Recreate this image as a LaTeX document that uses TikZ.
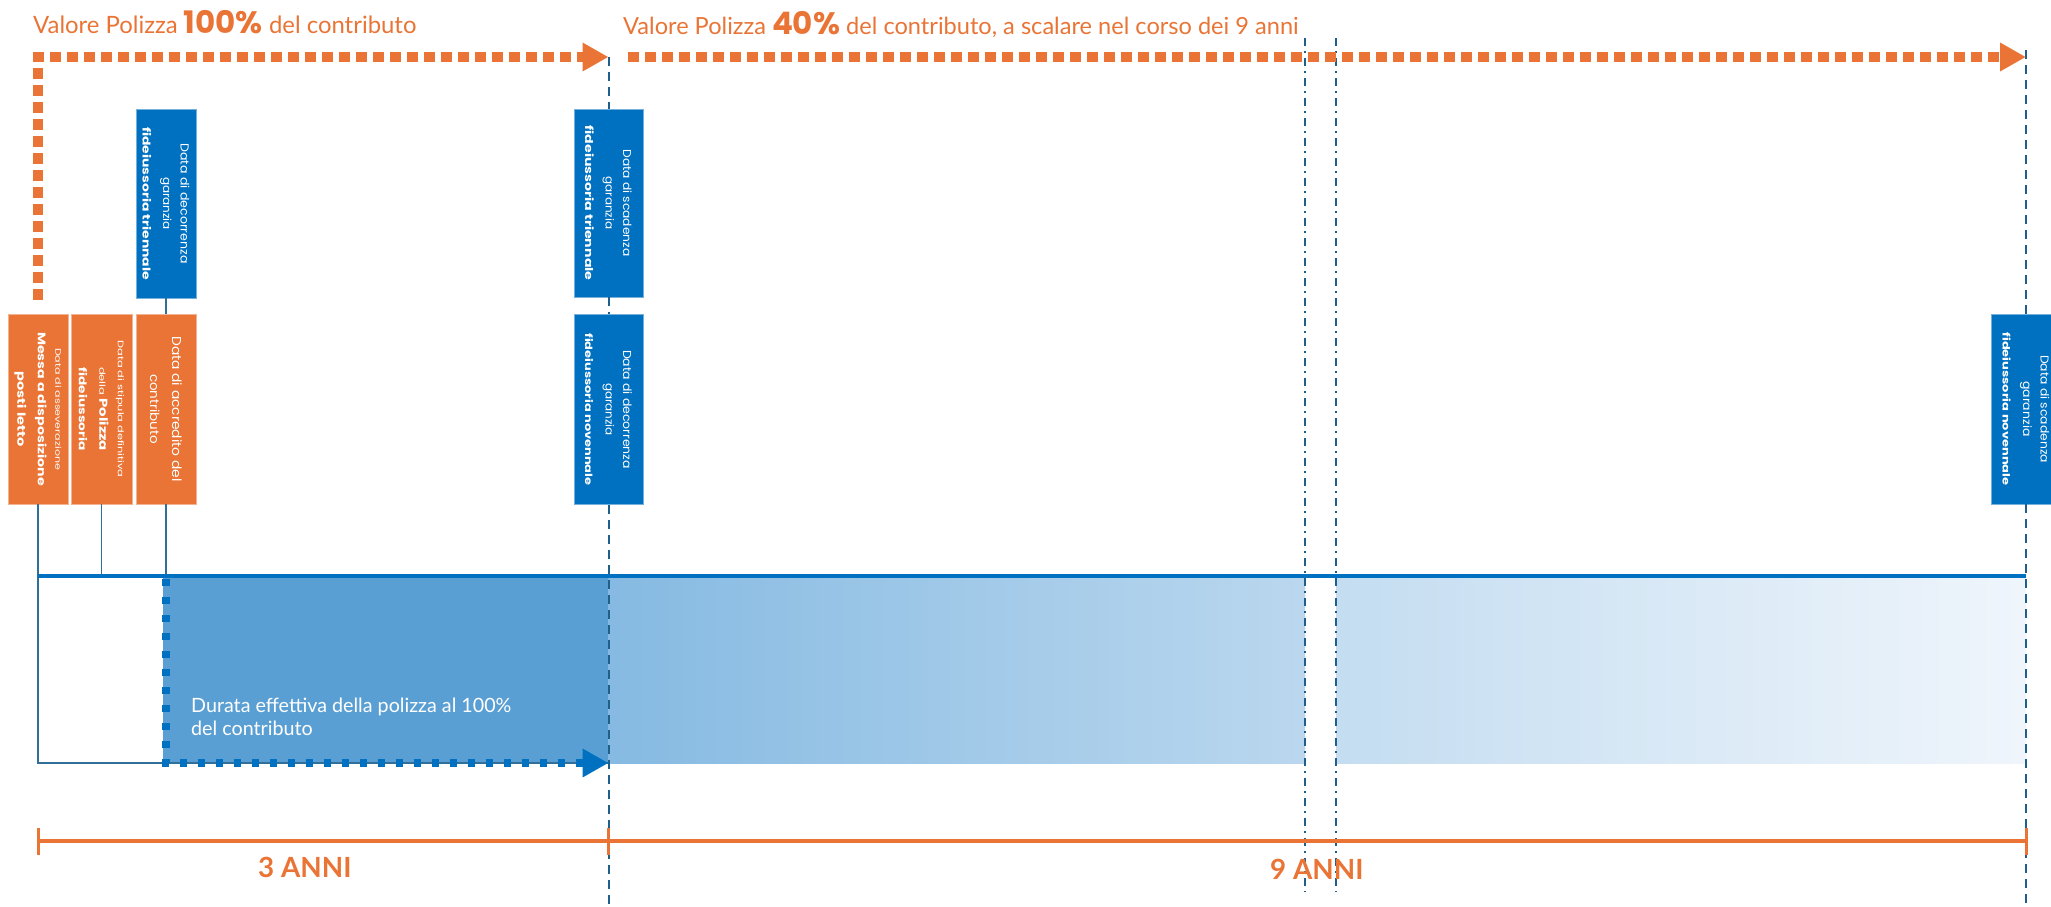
\documentclass[tikz,border=0pt]{standalone}
\usepackage{fontspec}
\usepackage{graphicx}
\setmainfont{Lato}
\newfontfamily\pop{Poppins}
\newfontfamily\bxR[FakeStretch=1.08]{Poppins}
\newfontfamily\bxW[FakeStretch=1.4]{Poppins}
\newfontfamily\bxB[FakeStretch=1.3]{Poppins}
\usetikzlibrary{arrows.meta}
\definecolor{orng}{HTML}{E97435}
\definecolor{bbox}{HTML}{0070C0}
\definecolor{thinc}{HTML}{2F6F98}
\definecolor{dsh}{HTML}{1F5F8B}
\definecolor{bdark}{HTML}{599FD3}
\definecolor{gal}{HTML}{86BAE2}
\definecolor{gar}{HTML}{BAD7EE}
\definecolor{gbl}{HTML}{C4DDF1}
\definecolor{gbr}{HTML}{EFF5FB}
\newcommand\fitln[2]{\resizebox{#1pt}{!}{#2}}
\newcommand\rgf{\bxR}
\newcommand\wdf{\bxW}
\newcommand\bdf{\bxB\bfseries}
\tikzset{
  obox/.style={rectangle, fill=orng, draw=orng!55!white, line width=0.8pt,
    rotate=-90, minimum width=190pt, minimum height=60pt, inner sep=0pt,
    align=center, text=white, font=\pop\fontsize{14}{20.5}\selectfont},
  bbx/.style={obox, fill=bbox, draw=bbox!55!white},
  thinln/.style={draw=thinc, line width=1.3pt},
  bline/.style={draw=bbox, line width=4.5pt},
  odots/.style={draw=orng, line width=10pt, dash pattern=on 11pt off 6pt,
    -{Triangle[length=26pt,width=27pt]}},
  bdots/.style={draw=bbox, line width=8pt, dash pattern=on 7pt off 11pt,
    -{Triangle[length=26pt,width=27pt]}},
  vdash/.style={draw=dsh, line width=2pt, dash pattern=on 9pt off 6pt},
  ddash/.style={draw=dsh, line width=2pt, dash pattern=on 8pt off 5pt on 2pt off 5pt},
  oline/.style={draw=orng, line width=4pt},
  otick/.style={draw=orng, line width=3pt},
  otitle/.style={anchor=base west, inner sep=0pt, text=orng, font=\fontsize{23.9}{28}\selectfont},
  anni/.style={anchor=base west, inner sep=0pt, text=orng, font=\bfseries\fontsize{27.8}{30}\selectfont}
}
\begin{document}
\begin{tikzpicture}[x=1pt,y=-1pt]
\useasboundingbox (0,0) rectangle (2051,906);
% shaded band
\fill[bdark] (163,578) rectangle (608.5,763);
\shade[left color=gal, right color=gar] (608.5,578) rectangle (1305,763);
\shade[left color=gbl, right color=gbr] (1336,578) rectangle (2026,763);

% coordinates
\coordinate (L0) at (38,576);
\coordinate (L9) at (2026,576);
\coordinate (t3) at (608.5,57);
\coordinate (s2) at (628,57);
\coordinate (t9) at (2026,57);
\coordinate (r9top) at (2026,50);
\coordinate (d3bot) at (608.5,906);
\coordinate (d9bot) at (2026,906);
\coordinate (c3) at (166,579);
\coordinate (dB) at (608.5,763);
\coordinate (g1a) at (1305,38);
\coordinate (g1b) at (1305,892);
\coordinate (g2a) at (1336,38);
\coordinate (g2b) at (1336,892);
\coordinate (a0) at (38,841);
\coordinate (a3) at (608.5,841);
\coordinate (a9) at (2026,841);

% boxes
\node[obox] (o1) at (38,409)
  {\fitln{122}{\wdf Data di asseverazione}\\[-3pt]\fitln{154}{\bdf Messa a disposizione}\\\fitln{75}{\bdf posti letto}};
\node[obox, minimum height=61pt] (o2) at (101.5,409)
  {\fitln{137}{\wdf Data di stipula definitiva}\\[-2pt]\fitln{84}{{\wdf\fontsize{10}{12}\selectfont della} {\bdf Polizza}}\\\fitln{83}{\bdf fideiussoria}};
\node[obox, font=\pop\fontsize{14}{22}\selectfont] (o3) at (166,409)
  {\fitln{145}{\rgf Data di accredito del}\\\fitln{70}{\rgf contributo}};
\node[bbx, minimum width=189pt] (b1) at (166,203.5)
  {\fitln{120}{\rgf Data di decorrenza}\\[-3pt]\fitln{53}{\rgf garanzia}\\\fitln{153}{\bdf fideiussoria triennale}};
\node[bbx, minimum width=188pt, minimum height=69pt] (b2) at (608.5,203)
  {\fitln{107}{\rgf Data di scadenza}\\[-3pt]\fitln{53}{\rgf garanzia}\\\fitln{155}{\bdf fideiussoria triennale}};
\node[bbx, minimum height=69pt] (b3) at (608.5,409.5)
  {\fitln{119}{\rgf Data di decorrenza}\\[-3pt]\fitln{53}{\rgf garanzia}\\\fitln{152}{\bdf fideiussoria novennale}};
\node[bbx, minimum height=69pt] (b4) at (2026,409)
  {\fitln{108}{\rgf Data di scadenza}\\[-3pt]\fitln{55}{\rgf garanzia}\\\fitln{153}{\bdf fideiussoria novennale}};

% thin connectors
\draw[thinln] (b1.east) -- (o3.west);
\draw[thinln] (o1.east) |- (dB);
\draw[thinln] (o2.east) -- (o2.east |- L0);
\draw[thinln] (o3.east) -- (o3.east |- L0);

% main blue line
\draw[bline] (L0) -- (L9);

% dashed verticals
\draw[vdash] (t3) -- (b2.west);
\draw[vdash] (b2.east) -- (b3.west);
\draw[vdash] (b3.east) -- (d3bot);
\draw[vdash] (r9top) -- (b4.west);
\draw[vdash] (b4.east) -- (d9bot);
\draw[ddash] (g1a) -- (g1b);
\draw[ddash] (g2a) -- (g2b);

% dotted arrows
\draw[bdots] (c3) |- (dB);
\draw[odots, shorten <=14pt] (o1.west) |- (t3);
\draw[odots] (s2) -- (t9);

% timeline
\draw[oline] (a0) -- (a9);
\draw[otick] ([yshift=13.5pt]a0) -- ([yshift=-13.5pt]a0);
\draw[otick] ([yshift=13.5pt]a3) -- ([yshift=-13.5pt]a3);
\draw[otick] ([yshift=13.5pt]a9) -- ([yshift=-13.5pt]a9);

% texts
\node[otitle] (tt1) at (33,33) {Valore Polizza {\pop\bfseries\fontsize{31}{31}\selectfont 100\%} del contributo};
\node[otitle, font=\fontsize{23.6}{28}\selectfont] (tt2) at (623,34) {Valore Polizza {\pop\bfseries\fontsize{31}{31}\selectfont 40\%} del contributo, a scalare nel corso dei 9 anni};
\node[anni] (y3) at (258,877) {3 ANNI};
\node[anni] (y9) at (1270,879) {9 ANNI};
\node[anchor=north west, inner sep=0pt, align=left, text=white, font=\fontsize{19.7}{23}\selectfont] (dur) at (191,698)
  {Durata effettiva della polizza al 100\%\\del contributo};
\end{tikzpicture}
\end{document}
